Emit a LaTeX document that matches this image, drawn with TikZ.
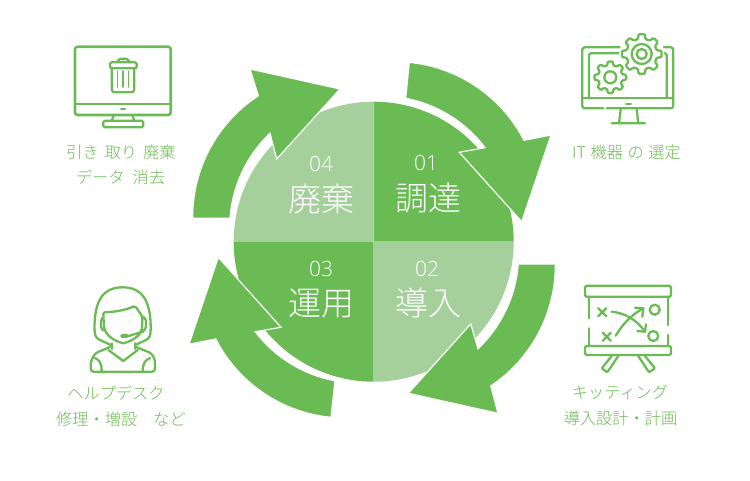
\documentclass[tikz,border=0pt]{standalone}
\usepackage{fontspec}
\newfontfamily\cjk{Noto Sans CJK JP Light}
\newfontfamily\digitfont{Open Sans Light}
\definecolor{gdark}{HTML}{6BBB54}
\definecolor{glight}{HTML}{A6D09B}
\newcommand{\gearpath}[5]{% cx cy R r ring radii
  \fill[white] (#1,#2) circle[radius=#3 pt+2.5pt];
  \draw[icon,rounded corners=1pt] ($(#1,#2)+(-9:#3 pt)$)
    \foreach \a in {0,45,...,315} { -- ($(#1,#2)+({\a-9}:#3 pt)$) -- ($(#1,#2)+({\a+9}:#3 pt)$) -- ($(#1,#2)+({\a+14}:#4 pt)$) -- ($(#1,#2)+({\a+31}:#4 pt)$) } -- cycle;
  \foreach \q in {#5} { \draw[icon] (#1,#2) circle[radius=\q pt]; }
}
\usetikzlibrary{calc}
\tikzset{
  icon/.style={draw=gdark,line width=2.3pt,line join=round,line cap=round},
  thinicon/.style={draw=gdark,line width=1.4pt,line cap=round},
  bigarrow/.style={fill=gdark,draw=white,line width=1.2pt,line join=miter},
  label/.style={text=gdark,font=\cjk\fontsize{16.2}{16.2}\selectfont,inner sep=0pt,anchor=center},
  biglabel/.style={text=white,font=\cjk\fontsize{33}{33}\selectfont,inner sep=0pt,anchor=center},
  numlabel/.style={text=white,font=\digitfont\fontsize{21}{21}\selectfont,inner sep=0pt,anchor=center}
}
\begin{document}
\begin{tikzpicture}[x=1pt,y=-1pt]
\useasboundingbox (0,0) rectangle (750,480);
\coordinate (c) at (373.7,241.7);
% pie
\fill[gdark] (c) -- ++(140,0) arc[start angle=0,end angle=90,radius=140pt] -- cycle;
\fill[glight] (c) -- ++(0,-140) arc[start angle=90,end angle=180,radius=140pt] -- cycle;
\fill[gdark] (c) -- ++(-140,0) arc[start angle=180,end angle=270,radius=140pt] -- cycle;
\fill[glight] (c) -- ++(0,140) arc[start angle=270,end angle=360,radius=140pt] -- cycle;
% arrows
\draw[bigarrow] (409.3,62.3) -- (405.7,98.3) arc[start angle=79.15,end angle=37.05,radius=130pt] -- (459.3,152.3) -- (521.7,221.7) -- (551,135) -- (524,140.3) arc[start angle=27.23,end angle=84.37,radius=145pt] -- cycle;
\draw[bigarrow] (518.3,264) -- (555.3,264) arc[start angle=0.51,end angle=-56.31,radius=145pt] -- (498,413.3) -- (408.3,393.3) -- (470.7,324) -- (478,348.7) arc[start angle=-46.55,end angle=-4.25,radius=130pt] -- cycle;
\draw[bigarrow] (335,380.7) -- (331,417.3) arc[start angle=264.53,end angle=207.07,radius=145pt] -- (189,344.3) -- (218.3,257.3) -- (281,327.3) -- (255.3,331.7) arc[start angle=217.3,end angle=259.5,radius=130pt] -- cycle;
\draw[bigarrow] (230,218.3) -- (192.7,218.3) arc[start angle=180.49,end angle=123.21,radius=145pt] -- (250,69) -- (340,89) -- (276.7,159) -- (270,133.3) arc[start angle=133.63,end angle=175.97,radius=130pt] -- cycle;
% pie labels
\node[numlabel] (n1) at (426,163) {01};
\node[biglabel] (t1) at (428.5,198) {調達};
\node[numlabel] (n2) at (427,269) {02};
\node[biglabel] (t2) at (428,303) {導入};
\node[numlabel] (n3) at (321,269) {03};
\node[biglabel] (t3) at (321,303) {運用};
\node[numlabel] (n4) at (321,164) {04};
\node[biglabel] (t4) at (321.5,199) {廃棄};
% outer labels
\node[label] (a1) at (121,152) {引き\hspace{6pt}取り\hspace{6pt}廃棄};
\node[label] (a2) at (120.5,177) {データ\hspace{8pt}消去};
\node[label] (b1) at (626.5,152) {IT\hspace{4.6pt}機器\hspace{4.6pt}の\hspace{4.6pt}選定};
\node[label] (c1) at (620,392) {キッティング};
\node[label] (c2) at (620.5,418) {導入設計・計画};
\node[label] (d1) at (116,393) {ヘルプデスク};
\node[label] (d2) at (121,419) {修理・増設　など};
% icon: trash monitor
\draw[icon,rounded corners=2.5pt,line width=2.6pt] (75,46.7) rectangle (170.7,115);
\draw[icon] (75,104) -- (170.7,104);
\draw[thinicon,line width=2pt] (121,108.7) -- (125,108.7);
\draw[icon] (114,115) -- (111.7,120.7) (132.3,115) -- (134.3,120.7);
\draw[icon,rounded corners=1.5pt] (103.3,120.7) rectangle (143.3,127.3);
\draw[icon,rounded corners=2pt] (110,62.3) rectangle (136.7,68.3);
\draw[icon,rounded corners=2pt] (117.3,62.3) -- (118.3,58.7) -- (128.3,58.7) -- (129.3,62.3);
\draw[icon,rounded corners=3pt] (111.7,68.3) -- (111.7,92.3) -- (134.3,92.3) -- (134.3,68.3);
\draw[thinicon] (117.3,71) -- (117.3,87) (123,71) -- (123,87) (128.3,71) -- (128.3,87);
% icon: gears monitor
\draw[icon,rounded corners=2.5pt] (603.3,108.3) -- (582.3,108.3) -- (582.3,47.3) -- (673.3,47.3) -- (673.3,108.3) -- (606.7,108.3);
\draw[icon,rounded corners=2pt] (589,98.3) -- (589,53.3) -- (666.7,53.3) -- (666.7,98.3);
\draw[icon] (582.3,98.3) -- (673.3,98.3);
\draw[thinicon,line width=2pt] (626,104) -- (631,104);
\draw[icon] (620.7,109.3) -- (619,123.3) (636.7,109.3) -- (638.3,123.3) (611.7,123.3) -- (645,123.3);
\gearpath{641.7}{54}{20}{15.5}{10,5}
\gearpath{610.3}{77.3}{16}{12.3}{6}
% icon: headset woman
\draw[icon] (111,345) -- (100,340) .. controls (95.5,338) and (94.5,335) .. (94.5,328) .. controls (94.5,302) and (102,287.3) .. (122.7,287.3) .. controls (143,287.3) and (150.7,302) .. (150.7,328) .. controls (150.7,335) and (150,338) .. (146,340) -- (135,345);
\draw[icon,rounded corners=2pt] (103.8,325) -- (103.3,312.3) .. controls (115,312) and (126,310) .. (135,305.7) -- (142.5,316.7) -- (142,328);
\draw[icon] (104,326) .. controls (104.5,335) and (114,341) .. (123.3,343.3) .. controls (132,341) and (141,336) .. (142,328);
\draw[icon,rounded corners=2pt] (103,317.5) -- (101,319) -- (101,329) -- (103.5,330.5);
\draw[icon,rounded corners=2pt] (143,317) -- (146,318.5) -- (146,329) -- (143,331);
\draw[icon] (143.5,331.5) -- (128.5,336);
\draw[thinicon,line width=3.2pt] (122,336) -- (127,336);
\draw[icon] (111.7,343.3) -- (111.7,349) (135,343.3) -- (135,349);
\draw[icon] (108.5,350) -- (123.3,361) -- (137.7,350);
\draw[icon,rounded corners=3pt] (110,347) -- (95,353.3) -- (90.7,361.7) -- (90.7,371.7) -- (155,371.7) -- (155,360) -- (151.7,353.3) -- (136,347);
\draw[icon] (95,358) .. controls (99,360) and (101.7,362) .. (101.7,371.7);
\draw[icon] (150,358) .. controls (146,360) and (142.7,362) .. (142.7,371.7);
% icon: whiteboard
\draw[icon,rounded corners=1.5pt] (585,285.7) rectangle (671,296.7);
\draw[icon,rounded corners=1.5pt] (585,346) rectangle (671,355);
\draw[icon] (589,296.7) -- (589,318.3) (589,328.3) -- (589,346) (668.3,296.7) -- (668.3,325) (668.3,335) -- (668.3,346);
\draw[icon,rounded corners=1pt] (611.7,356) -- (601.7,368.3) -- (607.3,372.3) -- (618.3,356);
\draw[icon,rounded corners=1pt] (638.3,356) -- (649,372.3) -- (655,368.3) -- (645,356);
\draw[icon] (598.2,308.2) -- (606.4,316.4) (606.4,308.2) -- (598.2,316.4);
\draw[icon] (602.6,332.6) -- (610.8,340.8) (610.8,332.6) -- (602.6,340.8);
\draw[icon] (654.7,309.7) circle[radius=5pt] (653.3,336) circle[radius=5pt];
\draw[icon] (611.7,311.7) .. controls (625,313) and (637,320) .. (645,331.7);
\draw[icon] (646,324.3) -- (645,331.7) -- (637.3,331);
\draw[icon] (615.7,335.7) .. controls (622,325) and (631,315) .. (643.3,308.3);
\draw[icon] (635,307.7) -- (643.3,308.3) -- (642.3,316.7);
\end{tikzpicture}
\end{document}
